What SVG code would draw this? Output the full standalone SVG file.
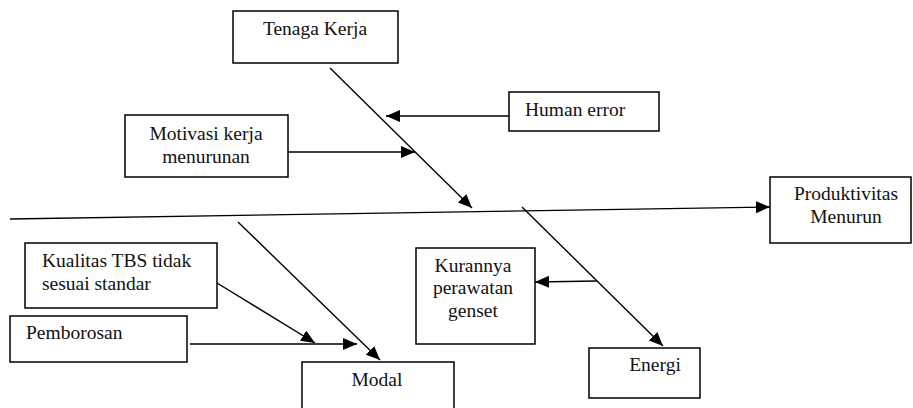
<svg xmlns="http://www.w3.org/2000/svg" width="913" height="408" viewBox="0 0 913 408">
<defs>
<marker id="ah" markerUnits="userSpaceOnUse" markerWidth="16" markerHeight="12" refX="14" refY="6" orient="auto">
<path d="M0,0 L14,6 L0,12 Z" fill="#000"/>
</marker>
<style>
.box{fill:#fff;stroke:#000;stroke-width:1.5}
.ar{stroke:#000;stroke-width:1.4;fill:none;marker-end:url(#ah)}
.c{text-anchor:middle}
</style>
</defs>
<rect width="913" height="408" fill="#fff"/>
<g id="connectors">
<line class="ar" x1="10" y1="219" x2="770" y2="207"/>
<line class="ar" x1="330" y1="68" x2="472" y2="208"/>
<line class="ar" x1="509" y1="116" x2="386" y2="116"/>
<line class="ar" x1="288" y1="152" x2="415" y2="152"/>
<line class="ar" x1="238" y1="222" x2="380" y2="360"/>
<line class="ar" x1="217" y1="283" x2="315" y2="343"/>
<line class="ar" x1="190" y1="344" x2="357" y2="344"/>
<line class="ar" x1="522" y1="207" x2="663" y2="346"/>
<line class="ar" x1="597" y1="281" x2="535" y2="282"/>
</g>
<g font-family="Liberation Serif, DejaVu Serif, serif" font-size="19.5" fill="#111">
<g id="tenaga-kerja">
<rect class="box" x="233" y="11" width="165" height="52"/>
<text class="c" x="315" y="35">Tenaga Kerja</text>
</g>
<g id="human-error">
<rect class="box" x="509" y="92" width="150" height="39"/>
<text x="525" y="116">Human error</text>
</g>
<g id="motivasi">
<rect class="box" x="125" y="115" width="163" height="62"/>
<text class="c" x="206" y="140">Motivasi kerja</text>
<text class="c" x="206" y="163">menurunan</text>
</g>
<g id="produktivitas">
<rect class="box" x="770" y="177" width="141" height="66"/>
<text class="c" x="846" y="200">Produktivitas</text>
<text class="c" x="846" y="223">Menurun</text>
</g>
<g id="kualitas">
<rect class="box" x="25" y="243" width="192" height="65"/>
<text x="42" y="267">Kualitas TBS tidak</text>
<text x="42" y="290">sesuai standar</text>
</g>
<g id="pemborosan">
<rect class="box" x="10" y="316" width="177" height="46"/>
<text x="26" y="339">Pemborosan</text>
</g>
<g id="modal">
<rect class="box" x="302" y="362" width="152" height="50"/>
<text class="c" x="377" y="386">Modal</text>
</g>
<g id="kurangnya">
<rect class="box" x="416" y="248" width="119" height="96"/>
<text class="c" x="473" y="272">Kurannya</text>
<text class="c" x="473" y="294">perawatan</text>
<text class="c" x="473" y="317">genset</text>
</g>
<g id="energi">
<rect class="box" x="589" y="348" width="111" height="50"/>
<text class="c" x="655" y="371">Energi</text>
</g>
</g>
</svg>
